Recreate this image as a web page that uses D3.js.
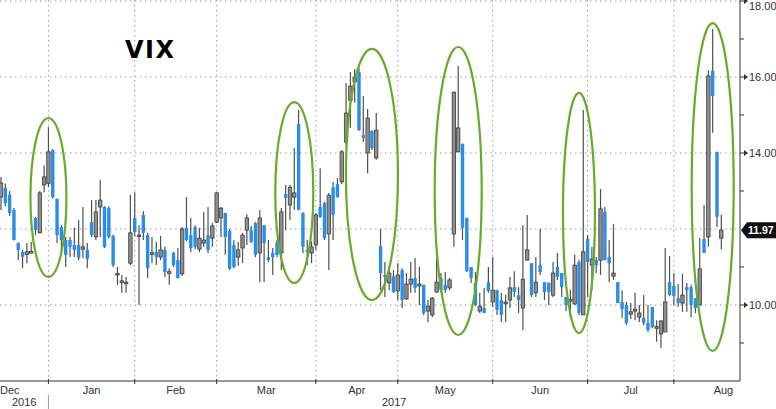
<!DOCTYPE html>
<html><head><meta charset="utf-8">
<script src="https://cdn.jsdelivr.net/npm/d3@7"></script>
<style>body{margin:0;background:#fff}svg{display:block}</style></head>
<body>
<svg id="c" width="776" height="409"></svg>
<script>
const dates = [
"2016-12-14","2016-12-15","2016-12-16","2016-12-19","2016-12-20","2016-12-21","2016-12-22","2016-12-23","2016-12-27","2016-12-28","2016-12-29","2016-12-30",
"2017-01-03","2017-01-04","2017-01-05","2017-01-06","2017-01-09","2017-01-10","2017-01-11","2017-01-12","2017-01-13","2017-01-17","2017-01-18","2017-01-19","2017-01-20","2017-01-23","2017-01-24","2017-01-25","2017-01-26","2017-01-27","2017-01-30","2017-01-31",
"2017-02-01","2017-02-02","2017-02-03","2017-02-06","2017-02-07","2017-02-08","2017-02-09","2017-02-10","2017-02-13","2017-02-14","2017-02-15","2017-02-16","2017-02-17","2017-02-21","2017-02-22","2017-02-23","2017-02-24","2017-02-27","2017-02-28",
"2017-03-01","2017-03-02","2017-03-03","2017-03-06","2017-03-07","2017-03-08","2017-03-09","2017-03-10","2017-03-13","2017-03-14","2017-03-15","2017-03-16","2017-03-17","2017-03-20","2017-03-21","2017-03-22","2017-03-23","2017-03-24","2017-03-27","2017-03-28","2017-03-29","2017-03-30","2017-03-31",
"2017-04-03","2017-04-04","2017-04-05","2017-04-06","2017-04-07","2017-04-10","2017-04-11","2017-04-12","2017-04-13","2017-04-17","2017-04-18","2017-04-19","2017-04-20","2017-04-21","2017-04-24","2017-04-25","2017-04-26","2017-04-27","2017-04-28",
"2017-05-01","2017-05-02","2017-05-03","2017-05-04","2017-05-05","2017-05-08","2017-05-09","2017-05-10","2017-05-11","2017-05-12","2017-05-15","2017-05-16","2017-05-17","2017-05-18","2017-05-19","2017-05-22","2017-05-23","2017-05-24","2017-05-25","2017-05-26","2017-05-30","2017-05-31",
"2017-06-01","2017-06-02","2017-06-05","2017-06-06","2017-06-07","2017-06-08","2017-06-09","2017-06-12","2017-06-13","2017-06-14","2017-06-15","2017-06-16","2017-06-19","2017-06-20","2017-06-21","2017-06-22","2017-06-23","2017-06-26","2017-06-27","2017-06-28","2017-06-29","2017-06-30",
"2017-07-03","2017-07-05","2017-07-06","2017-07-07","2017-07-10","2017-07-11","2017-07-12","2017-07-13","2017-07-14","2017-07-17","2017-07-18","2017-07-19","2017-07-20","2017-07-21","2017-07-24","2017-07-25","2017-07-26","2017-07-27","2017-07-28","2017-07-31",
"2017-08-01","2017-08-02","2017-08-03","2017-08-04","2017-08-07","2017-08-08","2017-08-09","2017-08-10","2017-08-11","2017-08-14","2017-08-15"];

const opens = [
12.84,13.08,12.90,12.50,11.63,11.40,11.33,11.37,12.29,11.90,13.16,13.20,
14.08,12.79,12.05,11.71,11.71,11.58,11.58,11.47,11.45,12.18,11.79,12.58,12.58,12.55,11.82,10.80,10.60,10.56,11.10,12.29,
11.80,12.37,11.84,11.34,11.40,11.26,11.45,10.84,11.37,11.18,10.82,12.03,11.84,12.05,11.47,11.63,11.84,11.76,12.18,
12.29,12.42,11.95,11.58,11.26,11.50,11.97,11.97,12.16,11.37,12.10,11.26,11.37,11.66,11.37,12.92,12.63,12.84,14.76,12.42,11.45,11.37,11.58,
12.58,12.68,11.87,13.10,13.18,13.24,14.29,15.39,15.87,16.13,14.47,14.00,14.58,13.87,11.55,10.79,10.58,10.76,10.37,
10.92,10.16,10.55,10.71,10.50,10.53,9.84,9.74,10.34,10.71,10.53,10.45,11.87,14.03,14.24,12.29,11.00,10.58,9.84,9.92,10.60,10.08,
10.39,10.13,10.03,10.13,10.47,10.26,9.92,11.18,11.10,10.32,11.05,10.60,10.58,10.26,11.00,10.84,10.21,10.10,10.03,11.13,9.74,11.74,
11.05,11.18,11.18,12.45,11.26,10.76,10.60,10.08,10.00,9.76,9.84,9.68,9.66,9.53,9.95,9.40,9.24,9.29,10.60,10.50,
10.18,10.05,10.47,10.47,10.18,10.00,11.74,11.79,16.16,14.03,11.76];

const highs = [
13.37,13.20,13.00,12.55,11.65,11.45,11.63,11.66,12.32,13.00,13.68,14.68,
14.10,12.80,12.10,11.79,11.79,12.03,12.24,12.58,11.63,12.76,12.76,13.29,12.60,12.60,11.85,11.00,10.79,10.74,12.90,12.97,
12.10,12.47,11.90,11.79,11.66,11.82,11.53,10.97,11.40,11.50,12.05,12.84,12.29,12.10,12.03,12.45,12.58,12.16,12.97,
12.58,12.42,12.00,11.71,11.66,11.90,12.39,12.08,12.18,12.50,12.10,11.71,11.50,11.71,12.55,13.16,13.16,14.13,15.13,12.45,11.71,11.68,12.42,
13.60,12.71,12.95,13.24,13.34,14.08,15.84,16.13,16.21,16.24,15.50,15.16,14.60,15.05,12.00,11.13,11.00,10.92,11.10,
10.97,10.84,11.13,11.24,11.00,10.53,10.13,10.21,11.24,10.84,10.87,10.71,15.62,16.29,14.25,12.30,11.00,10.87,10.32,10.45,11.00,11.26,
10.40,10.32,10.26,10.74,10.89,10.47,12.10,12.37,11.10,11.26,12.00,10.60,10.60,11.13,11.37,10.84,10.21,10.40,11.32,11.18,15.13,11.84,
11.53,11.26,13.05,12.58,11.71,12.13,10.60,10.39,10.08,10.05,10.32,10.00,10.26,10.00,9.95,9.60,9.60,11.50,11.29,10.84,
10.55,10.82,10.58,10.53,10.18,11.76,12.63,16.18,17.26,14.03,12.37];

const lows = [
12.50,12.60,12.35,11.70,11.18,10.97,11.10,11.37,11.84,11.88,12.97,13.10,
12.80,11.63,11.37,11.00,11.26,11.26,11.18,11.24,10.97,11.79,11.71,11.79,11.50,11.75,11.00,10.53,10.32,10.32,11.05,11.80,
10.00,11.71,10.71,11.10,11.05,11.18,10.74,10.53,11.00,10.70,10.76,11.68,11.39,11.47,11.39,11.53,11.37,11.53,12.16,
11.79,11.32,10.92,10.97,11.03,11.10,11.58,11.63,11.26,10.60,10.60,11.13,10.79,11.26,10.92,11.97,12.24,12.50,12.50,11.37,11.05,11.10,11.45,
12.29,11.71,10.92,11.71,12.82,13.18,14.21,14.66,15.32,14.58,14.29,13.47,14.08,13.82,10.39,10.21,10.39,10.32,10.13,
9.92,10.13,10.32,10.32,10.00,9.74,9.55,9.68,10.32,10.34,10.32,10.39,11.53,14.02,11.71,10.87,10.58,9.97,9.79,9.79,10.32,9.95,
9.74,9.55,9.55,9.92,10.21,9.79,9.34,11.18,10.21,10.21,10.79,10.13,10.00,10.21,10.66,10.21,9.84,9.68,10.00,9.74,9.74,10.21,
10.39,10.84,10.79,11.18,10.60,10.66,10.05,9.66,9.47,9.63,9.60,9.55,9.47,9.29,9.39,9.03,8.87,9.29,10.24,10.00,
9.95,9.82,9.82,9.68,9.79,10.00,11.37,11.53,14.53,12.05,11.47];

const closes = [
13.21,12.68,12.42,11.71,11.45,11.27,11.40,11.40,11.97,12.95,13.37,14.03,
12.84,11.84,11.71,11.32,11.53,11.45,11.24,11.53,11.21,11.84,12.45,12.76,11.53,11.79,11.05,10.82,10.63,10.60,11.90,11.92,
11.84,11.90,10.97,11.37,11.26,11.45,10.87,10.87,11.05,10.71,12.00,11.71,11.50,11.53,11.76,11.71,11.45,12.08,12.95,
12.55,11.79,10.95,11.00,11.45,11.84,12.29,11.66,11.32,12.29,11.63,11.18,11.26,11.32,12.45,12.82,13.10,12.95,12.50,11.53,11.40,11.53,12.37,
12.32,11.76,12.89,12.37,12.84,14.03,15.05,15.76,16.00,14.60,14.40,14.92,14.13,14.60,10.84,10.74,10.84,10.34,10.79,
10.13,10.55,10.68,10.45,10.55,9.79,9.97,10.18,10.60,10.39,10.39,10.66,15.60,14.66,12.03,10.89,10.71,10.00,9.97,9.79,10.37,10.39,
9.87,9.74,10.08,10.45,10.34,10.13,10.68,11.45,10.26,10.60,10.87,10.34,10.34,10.84,10.74,10.47,10.00,10.15,11.05,9.79,11.40,11.13,
11.21,11.05,12.53,11.18,11.10,10.84,10.05,9.89,9.53,9.82,9.89,9.79,9.53,9.34,9.42,9.42,9.58,10.08,10.26,10.24,
10.05,10.26,10.39,10.00,9.92,10.95,11.37,16.03,15.50,12.32,11.97];

const yTicks = [10, 12, 14, 16, 18];
const yMinorTicks = [9, 11, 13, 15, 17];
const monthLabels = ["Dec","Jan","Feb","Mar","Apr","May","Jun","Jul","Aug"];
const monthTradingDays = [21,20,19,23,19,22,22,20,23];
const yearLabels = ["2016","2017"];
const titleText = "VIX";
// highlighted episodes: centre day, value range
const hlDates = ["2016-12-30","2017-03-24","2017-04-20","2017-05-18","2017-06-28","2017-08-11"];
const hlLow  = [10.74, 10.58, 10.13, 9.21, 9.26, 8.79];
const hlHigh = [14.92, 15.34, 16.74, 16.79, 15.58, 17.42];
const hlHalfWidth = [18, 19, 26, 23.5, 16, 21];

const W = 776, H = 409, plotR = 740, plotB = 381;
const svg = d3.select("#c");
const x = d3.scalePoint().domain(dates).range([1, 721.3]);
const step = x.step();
const y = d3.scaleLinear().domain([8, 18]).range([plotB, 1]);

const grid = "#9a9a9a";
svg.append("g").selectAll("line").data(yTicks).join("line")
  .attr("x1", 0).attr("x2", plotR).attr("y1", d => y(d)).attr("y2", d => y(d))
  .attr("stroke", grid).attr("stroke-width", 1).attr("stroke-dasharray", "1.5,3.5");

const monthKeys = Array.from(new Set(dates.map(d => d.slice(0,7))));
const lastOfMonth = monthKeys.map(k => dates.filter(d => d.startsWith(k)).slice(-1)[0]);
const gridXs = lastOfMonth.slice(0, -1).map(d => x(d));
svg.append("g").selectAll("line").data(gridXs).join("line")
  .attr("x1", d => d).attr("x2", d => d).attr("y1", 0).attr("y2", plotB)
  .attr("stroke", grid).attr("stroke-width", 1).attr("stroke-dasharray", "1.5,3.5");

const g = svg.append("g");
const bw = 3.4;
dates.forEach((d, i) => {
  const cx = x(d), o = opens[i], c = closes[i];
  const up = c >= o;
  g.append("line").attr("x1", cx).attr("x2", cx).attr("y1", y(highs[i])).attr("y2", y(lows[i]))
    .attr("stroke", "#505050").attr("stroke-width", 1.2);
  const top = y(Math.max(o, c)), bot = y(Math.min(o, c));
  const h = Math.max(bot - top, 1.6);
  const r = g.append("rect").attr("x", cx - bw/2).attr("y", top - (h - (bot-top))/2)
    .attr("width", bw).attr("height", h);
  if (up) r.attr("fill", "#8e8e8e").attr("stroke", "#3c3c3c").attr("stroke-width", 0.8);
  else r.attr("fill", "#2a8ee8");
});

svg.append("g").selectAll("ellipse").data(hlDates).join("ellipse")
  .attr("cx", d => x(d))
  .attr("cy", (d, i) => (y(hlLow[i]) + y(hlHigh[i])) / 2)
  .attr("rx", (d, i) => hlHalfWidth[i])
  .attr("ry", (d, i) => (y(hlLow[i]) - y(hlHigh[i])) / 2)
  .attr("fill", "none").attr("stroke", "#68aa2c").attr("stroke-width", 2.2);

svg.append("text").attr("x", 125).attr("y", 58).text(titleText)
  .attr("font-family", "DejaVu Sans").attr("font-weight", "bold").attr("font-size", 24)
  .attr("letter-spacing", 1.5).attr("fill", "#000");

svg.append("line").attr("x1", 0).attr("x2", plotR).attr("y1", plotB).attr("y2", plotB)
  .attr("stroke", "#333").attr("stroke-width", 1);
svg.append("line").attr("x1", plotR).attr("x2", plotR).attr("y1", 0).attr("y2", plotB)
  .attr("stroke", "#333").attr("stroke-width", 1);

const lastVal = closes[closes.length - 1];
const yl = svg.append("g");
yMinorTicks.forEach(v => {
  yl.append("line").attr("x1", plotR).attr("x2", plotR + 4).attr("y1", y(v)).attr("y2", y(v))
    .attr("stroke", "#333");
});
yTicks.forEach(v => {
  const yy = y(v);
  if (Math.abs(yy - y(lastVal)) < 12) return;
  yl.append("line").attr("x1", plotR).attr("x2", plotR + 4).attr("y1", yy).attr("y2", yy).attr("stroke", "#333");
  yl.append("path").attr("d", `M${plotR+4},${yy-3}L${plotR+8},${yy}L${plotR+4},${yy+3}Z`).attr("fill", "#333");
  yl.append("text").attr("x", plotR + 9).attr("y", Math.max(yy + 4, 10)).text(d3.format(".2f")(v))
    .attr("font-family", "Liberation Sans").attr("font-size", 11).attr("fill", "#333");
});
const ly = y(lastVal);
yl.append("path").attr("d", `M${plotR+1},${ly}L${plotR+7},${ly-8}L${W},${ly-8}L${W},${ly+8}L${plotR+7},${ly+8}Z`).attr("fill", "#111");
yl.append("text").attr("x", plotR + 8).attr("y", ly + 4).text(d3.format(".2f")(lastVal))
  .attr("font-family", "Liberation Sans").attr("font-weight", "bold").attr("font-size", 10.5).attr("fill", "#fff");

const xl = svg.append("g");
gridXs.forEach(gx => {
  xl.append("line").attr("x1", gx).attr("x2", gx).attr("y1", plotB - 2).attr("y2", plotB + 3).attr("stroke", "#333");
});
const bounds = [];
monthKeys.forEach((k, i) => {
  let a, b;
  if (i === 0) { b = gridXs[0]; a = b - monthTradingDays[i] * step; }
  else if (i === monthKeys.length - 1) { a = gridXs[i-1]; b = a + monthTradingDays[i] * step; }
  else { a = gridXs[i-1]; b = gridXs[i]; }
  bounds.push([a, b]);
});
monthLabels.forEach((m, i) => {
  const t = xl.append("text").text(m).attr("y", 394)
    .attr("font-family", "Liberation Sans").attr("font-size", 11).attr("fill", "#333").attr("text-anchor", "middle");
  const w = t.node().getComputedTextLength();
  let cx = (bounds[i][0] + bounds[i][1]) / 2;
  cx = Math.max(cx, w / 2);
  t.attr("x", cx);
});
const sep = gridXs[0];
xl.append("line").attr("x1", sep).attr("x2", sep).attr("y1", 395).attr("y2", 409).attr("stroke", "#999");
[[0, sep], [sep, plotR]].forEach((r, i) => {
  xl.append("text").text(yearLabels[i]).attr("x", (r[0] + r[1]) / 2).attr("y", 406)
    .attr("font-family", "Liberation Sans").attr("font-size", 11).attr("fill", "#333").attr("text-anchor", "middle");
});
</script>
</body></html>
